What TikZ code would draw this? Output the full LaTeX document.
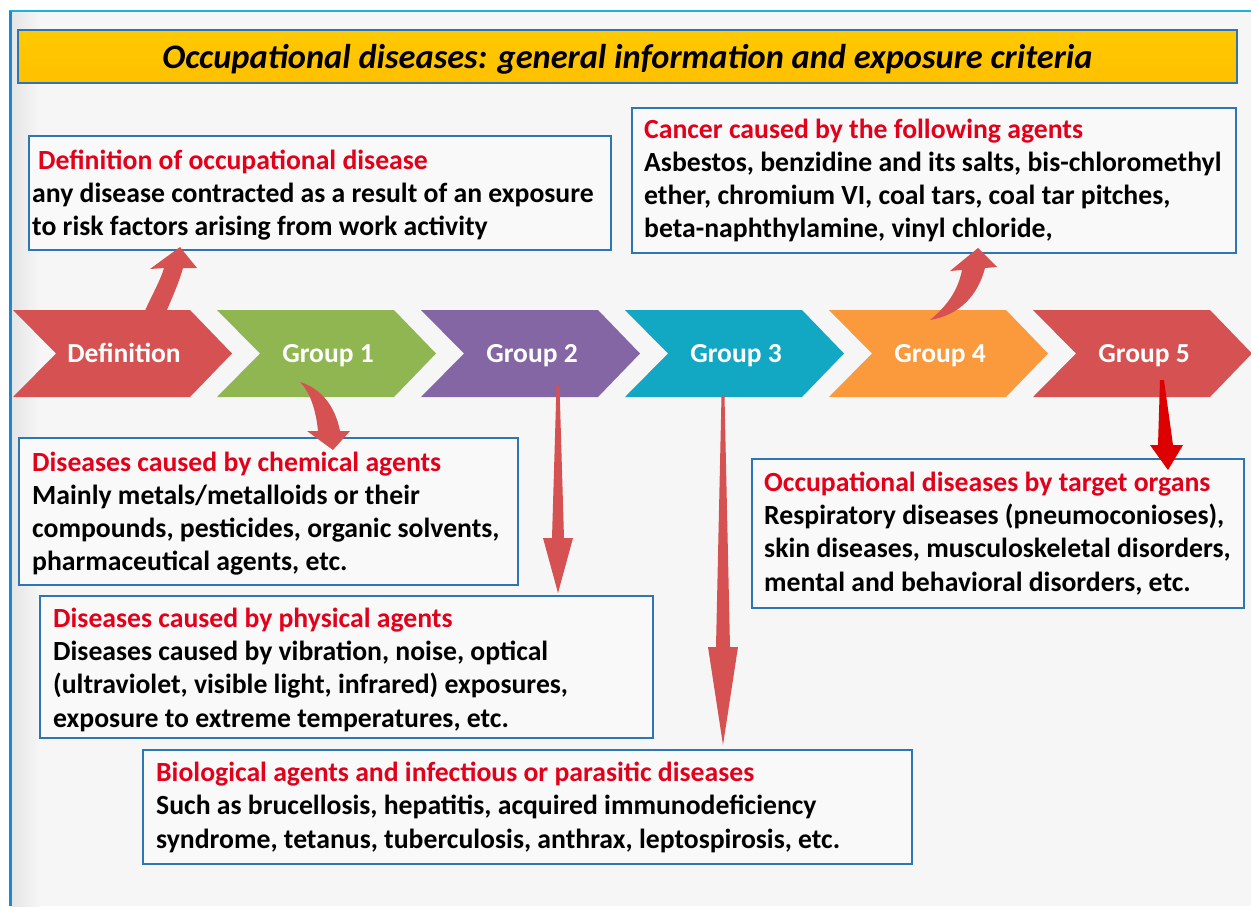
\documentclass[tikz,border=0pt]{standalone}
\usepackage{fontspec}
\setmainfont{Carlito}
\usetikzlibrary{calc}
\definecolor{boxblue}{HTML}{2E75B6}
\definecolor{titlered}{HTML}{E2001A}
\definecolor{arrred}{HTML}{D65151}
\definecolor{darkred}{HTML}{DD0000}
\definecolor{bggray}{HTML}{F6F6F6}
\definecolor{boxfill}{HTML}{F9F9F9}
\definecolor{barorange}{HTML}{FFC000}
\definecolor{framecyan}{HTML}{1FB0E0}
\definecolor{frameblue}{HTML}{1E88CC}
\definecolor{chred}{HTML}{D65151}
\definecolor{chgreen}{HTML}{8FB651}
\definecolor{chpurple}{HTML}{8466A5}
\definecolor{chteal}{HTML}{12A8C3}
\definecolor{chorange}{HTML}{FA9A3C}
\tikzset{
  infobox/.style={draw=boxblue, line width=1.8pt, fill=boxfill, anchor=north west, inner sep=0pt},
  txt/.style={font=\fontsize{27.7}{33.3}\selectfont\bfseries, align=left, inner sep=0pt, anchor=base west, text=black},
  chevtext/.style={font=\fontsize{27.5}{30}\selectfont\bfseries, text=white, inner sep=0pt, anchor=base},
  arrowfill/.style={fill=arrred, draw=none},
}
\newcommand{\redt}[1]{\textcolor{titlered}{#1}}
\newcommand{\chevron}[2]{\fill[#2] (#1,310) -- (#1+177,310) -- (#1+219,353.5) -- (#1+177,397) -- (#1,397) -- (#1+43,353.5) -- cycle;}
\begin{document}
\begin{tikzpicture}[x=1pt,y=-1pt]
\useasboundingbox (0,0) rectangle (1251,906);
\fill[white] (0,0) rectangle (1251,906);
\fill[bggray] (10,12) rectangle (1251,906);
\fill[left color=black!10, right color=bggray] (12,12) rectangle (40,906);
\draw[framecyan, line width=2.5pt] (9,11) -- (1251,11);
\draw[frameblue, line width=3pt] (10,11) -- (10,906);

% title bar
\node[draw=boxblue, line width=1.5pt, top color=barorange!85!yellow, bottom color=barorange, minimum width=1219pt, minimum height=53pt, inner sep=0pt] (title) at (627.5,56.5) {};
\node[font=\fontsize{34.4}{36}\selectfont\bfseries\itshape, inner sep=0pt] (titletext) at ($(title.center)+(0,2.5)$) {Occupational diseases: general information and exposure criteria};

% boxes
\node[infobox, minimum width=582pt, minimum height=114pt] (defbox) at (28,135) {};
\node[infobox, minimum width=604pt, minimum height=145pt] (canbox) at (631,107) {};
\node[infobox, minimum width=499pt, minimum height=147pt] (chembox) at (18,437) {};
\node[infobox, minimum width=613pt, minimum height=142pt] (physbox) at (39,595) {};
\node[infobox, minimum width=769pt, minimum height=114pt] (biobox) at (142,749) {};
\node[infobox, minimum width=492pt, minimum height=149pt] (orgbox) at (751,458) {};

\node[txt, font=\fontsize{27.7}{33}\selectfont\bfseries] (deft) at (32,235) {\hspace*{6pt}\redt{Definition of occupational disease}\\
any disease contracted as a result of an exposure\\
to risk factors arising from work activity};
\node[txt, font=\fontsize{27.7}{33}\selectfont\bfseries] (cant) at (644,237) {\redt{Cancer caused by the following agents}\\
Asbestos, benzidine and its salts, bis-chloromethyl\\
ether, chromium VI, coal tars, coal tar pitches,\\
beta-naphthylamine, vinyl chloride,};
\node[txt, font=\fontsize{27.7}{33}\selectfont\bfseries] (chemt) at (32,570) {\redt{Diseases caused by chemical agents}\\
Mainly metals/metalloids or their\\
compounds, pesticides, organic solvents,\\
pharmaceutical agents, etc.};
\node[txt] (physt) at (53,727) {\redt{Diseases caused by physical agents}\\
Diseases caused by vibration, noise, optical\\
(ultraviolet, visible light, infrared) exposures,\\
exposure to extreme temperatures, etc.};
\node[txt] (biot) at (156,848) {\redt{Biological agents and infectious or parasitic diseases}\\
Such as brucellosis, hepatitis, acquired immunodeficiency\\
syndrome, tetanus, tuberculosis, anthrax, leptospirosis, etc.};
\node[txt] (orgt) at (764,591) {\redt{Occupational diseases by target organs}\\
Respiratory diseases (pneumoconioses),\\
skin diseases, musculoskeletal disorders,\\
mental and behavioral disorders, etc.};

% definition arrow (behind chevron)
\fill[arrowfill] (140,322) .. controls (150,298) and (160,282) .. (164,268) -- (150,269) -- (180,247) -- (197,268) -- (183,268) .. controls (178,286) and (170,302) .. (162,322) -- cycle;

% chevrons
\chevron{13}{chred}
\chevron{217}{chgreen}
\chevron{421}{chpurple}
\chevron{625}{chteal}
\chevron{829}{chorange}
\chevron{1033}{chred}
\node[chevtext] (def) at (124,362) {Definition};
\node[chevtext] (g1) at (328,362) {Group 1};
\node[chevtext] (g2) at (532,362) {Group 2};
\node[chevtext] (g3) at (736,362) {Group 3};
\node[chevtext] (g4) at (940,362) {Group 4};
\node[chevtext] (g5) at (1144,362) {Group 5};

% connectors
\fill[arrowfill] (300,382) .. controls (320,388) and (335,405) .. (340,431) -- (350,431) -- (333,450) -- (307,431) -- (318,431) .. controls (316,410) and (310,392) .. (300,382) -- cycle;
\fill[arrowfill] (930,320) .. controls (948,305) and (958,290) .. (962,270) -- (950,271) -- (978,248) -- (997,267) -- (985,268) .. controls (978,295) and (960,315) .. (930,320) -- cycle;
\fill[arrowfill] (556.5,386) -- (559.5,386) -- (564,538) -- (573,538) -- (558,593) -- (543,538) -- (552,538) -- cycle;
\fill[arrowfill] (721.5,396) -- (724.5,396) -- (730,647) -- (738,647) -- (723,745) -- (708,647) -- (716,647) -- cycle;
\fill[darkred] (1160,380) -- (1164,380) -- (1173,445) -- (1183,445) -- (1168,470) -- (1150,445) -- (1158,445) -- cycle;
\end{tikzpicture}
\end{document}
